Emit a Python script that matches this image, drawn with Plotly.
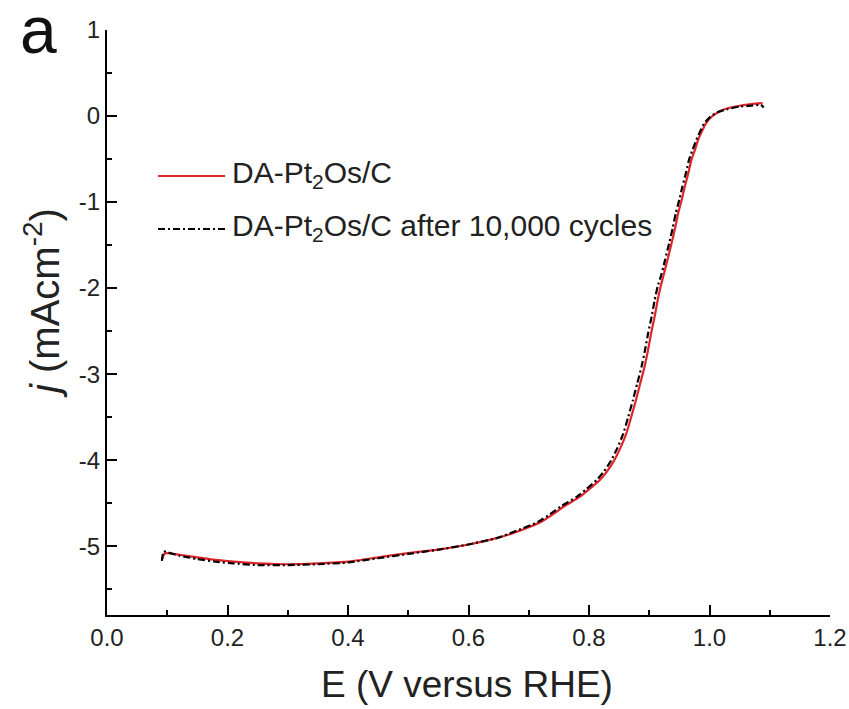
import plotly.graph_objects as go

# Data
E_red = [0.092, 0.095, 0.10, 0.12, 0.15, 0.18, 0.21, 0.25, 0.30, 0.35, 0.40, 0.45, 0.50, 0.55,
         0.60, 0.65, 0.685, 0.72, 0.74, 0.76, 0.784, 0.80, 0.818, 0.83, 0.842, 0.852, 0.862,
         0.870, 0.878, 0.885, 0.892, 0.898, 0.903, 0.909, 0.914, 0.919, 0.923, 0.930, 0.937,
         0.943, 0.948, 0.954, 0.959, 0.965, 0.970, 0.976, 0.981, 0.988, 0.994, 1.005, 1.016,
         1.03, 1.05, 1.07, 1.088]
j_red = [-5.15, -5.09, -5.08, -5.10, -5.13, -5.16, -5.18, -5.20, -5.21, -5.20, -5.18, -5.13,
         -5.08, -5.04, -4.98, -4.90, -4.82, -4.72, -4.63, -4.53, -4.43, -4.34, -4.23, -4.13,
         -4.00, -3.86, -3.69, -3.50, -3.30, -3.11, -2.92, -2.72, -2.53, -2.33, -2.14, -1.98,
         -1.87, -1.68, -1.48, -1.30, -1.13, -0.97, -0.82, -0.66, -0.51, -0.39, -0.28, -0.17,
         -0.085, 0.00, 0.05, 0.09, 0.12, 0.14, 0.15]

E_blk = [0.091, 0.094, 0.10, 0.12, 0.15, 0.18, 0.21, 0.25, 0.30, 0.35, 0.40, 0.45, 0.50, 0.55,
         0.60, 0.65, 0.68, 0.715, 0.735, 0.755, 0.779, 0.795, 0.813, 0.825, 0.837, 0.847,
         0.857, 0.865, 0.873, 0.880, 0.887, 0.893, 0.898, 0.904, 0.909, 0.914, 0.919, 0.926,
         0.933, 0.939, 0.944, 0.950, 0.955, 0.961, 0.966, 0.972, 0.978, 0.985, 0.991, 1.003,
         1.015, 1.03, 1.05, 1.07, 1.085, 1.09]
j_blk = [-5.17, -5.06, -5.07, -5.11, -5.15, -5.18, -5.20, -5.22, -5.22, -5.21, -5.19, -5.14,
         -5.09, -5.04, -4.98, -4.90, -4.82, -4.72, -4.63, -4.53, -4.43, -4.34, -4.23, -4.13,
         -4.00, -3.86, -3.69, -3.50, -3.30, -3.11, -2.92, -2.72, -2.53, -2.33, -2.14, -1.98,
         -1.87, -1.68, -1.48, -1.30, -1.13, -0.97, -0.82, -0.66, -0.51, -0.39, -0.28, -0.17,
         -0.085, 0.00, 0.05, 0.08, 0.11, 0.12, 0.13, 0.10]

series_names = ["DA-Pt<sub>2</sub>Os/C", "DA-Pt<sub>2</sub>Os/C after 10,000 cycles"]
x_ticks = [0.0, 0.2, 0.4, 0.6, 0.8, 1.0, 1.2]
x_tick_labels = ["0.0", "0.2", "0.4", "0.6", "0.8", "1.0", "1.2"]
y_ticks = [1, 0, -1, -2, -3, -4, -5]
y_tick_labels = ["1", "0", "-1", "-2", "-3", "-4", "-5"]

FONT = "Liberation Sans, Arial, sans-serif"
RED = "#e0242a"
DASH = "7px,3px,2px,3px"

# figure geometry in page pixels (body margin removed by post_script)
W, H = 849, 709
AX_L, AX_R, AX_T, AX_B = 107, 830, 30, 615   # plot area
L, T, R, B = AX_L, AX_T, W - AX_R, H - AX_B
PW, PH = AX_R - AX_L, AX_B - AX_T


def px_x(x):
    return (x - AX_L) / PW


def px_y(y):
    return (AX_B - y) / PH


fig = go.Figure()
fig.add_trace(go.Scatter(x=E_red, y=j_red, mode="lines", name=series_names[0],
                         line=dict(color=RED, width=2.2, shape="spline", smoothing=0.5),
                         showlegend=False))
fig.add_trace(go.Scatter(x=E_blk, y=j_blk, mode="lines", name=series_names[1],
                         line=dict(color="black", width=2.2, dash=DASH, shape="spline",
                                   smoothing=0.5),
                         showlegend=False))

axis_common = dict(showline=True, linecolor="black", linewidth=2, ticks="inside",
                   ticklen=10, tickwidth=2, tickcolor="black", showgrid=False, zeroline=False,
                   automargin=False, tickfont=dict(family=FONT, size=24, color="#222"))
fig.update_xaxes(range=[0, 1.2], tickvals=x_ticks, ticktext=x_tick_labels,
                 minor=dict(ticks="inside", ticklen=5, tickwidth=2, tickcolor="black",
                            dtick=0.1, tick0=0, showgrid=False),
                 **axis_common)
fig.update_yaxes(range=[-5.8, 1], tickvals=y_ticks, ticktext=y_tick_labels,
                 minor=dict(ticks="inside", ticklen=5, tickwidth=2, tickcolor="black",
                            dtick=0.5, tick0=0, showgrid=False),
                 **axis_common)

# Legend drawn manually (long samples)
legend_lines = [dict(color=RED, width=2.2), dict(color="black", width=2.2, dash=DASH)]
for ypx, name, ln in zip([176, 229], series_names, legend_lines):
    yp = px_y(ypx)
    fig.add_shape(type="line", xref="paper", yref="paper", x0=px_x(158), x1=px_x(225),
                  y0=yp, y1=yp, line=ln)
    fig.add_annotation(xref="paper", yref="paper", x=px_x(230), y=px_y(ypx - 2), text=name,
                       showarrow=False, xanchor="left", yanchor="middle",
                       font=dict(family=FONT, size=30, color="#222"))

# axis titles
fig.add_annotation(xref="paper", yref="paper", x=px_x(467), y=px_y(684),
                   text="E (V versus RHE)", showarrow=False, xanchor="center",
                   yanchor="middle", font=dict(family=FONT, size=37, color="#222"))
fig.add_annotation(xref="paper", yref="paper", x=px_x(42), y=px_y(303),
                   text="<i>j</i> (mAcm<sup>-2</sup>)", textangle=-90, showarrow=False,
                   xanchor="center", yanchor="middle",
                   font=dict(family=FONT, size=40, color="#222"))
fig.add_annotation(xref="paper", yref="paper", x=px_x(38), y=px_y(30),
                   text="a", showarrow=False, xanchor="center", yanchor="middle",
                   font=dict(family=FONT, size=66, color="#111"))

fig.update_layout(width=W, height=H, paper_bgcolor="white", plot_bgcolor="white",
                  margin=dict(l=L, r=R, t=T, b=B))

fig.write_html("out.html", config={"displayModeBar": False},
               post_script="document.body.style.margin='0';"
                           "document.body.style.overflow='hidden';")
